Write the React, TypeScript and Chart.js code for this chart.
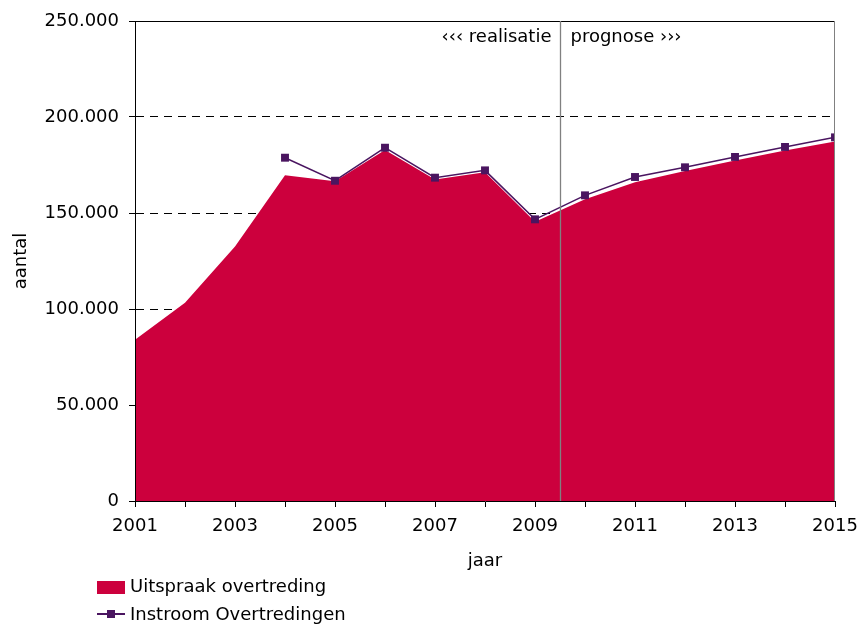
import React, { useEffect, useRef } from "react";
import { Chart, registerables } from "chart.js";

Chart.register(...registerables);

const years = [2001, 2002, 2003, 2004, 2005, 2006, 2007, 2008, 2009, 2010, 2011, 2012, 2013, 2014, 2015];
const uitspraak = [84000, 103300, 132500, 169600, 166500, 182800, 167500, 171200, 145500, 157100, 166000, 171900, 177300, 182500, 187300];
const instroom: (number | null)[] = [null, null, null, 178800, 166800, 184000, 168400, 172200, 146700, 159200, 168750, 173800, 179200, 184400, 189400];
const yTicks = [0, 50000, 100000, 150000, 200000, 250000];
const splitYear = 2009.5;
const leftNote = "‹‹‹ realisatie";
const rightNote = "prognose ›››";
const seriesNames = ["Uitspraak overtreding", "Instroom Overtredingen"];

const AREA = "#CC003D";
const LINE = "#4A1560";
const FONT = "'DejaVu Sans', Verdana, sans-serif";
const FS = 18;

function fmt(v: number): string {
  const s = Math.round(v).toString();
  return s.replace(/\B(?=(\d{3})+(?!\d))/g, ".");
}

const framePlugin = {
  id: "frame",
  afterDatasetsDraw(chart: any) {
    const { ctx, chartArea } = chart;
    const xs = chart.scales.x;
    ctx.save();
    ctx.strokeStyle = "#000";
    ctx.lineWidth = 1;
    ctx.beginPath();
    ctx.moveTo(chartArea.left, chartArea.top + 0.5);
    ctx.lineTo(chartArea.right, chartArea.top + 0.5);
    ctx.stroke();
    ctx.strokeStyle = "#808080";
    ctx.beginPath();
    ctx.moveTo(chartArea.right - 0.5, chartArea.top);
    ctx.lineTo(chartArea.right - 0.5, chartArea.bottom);
    ctx.stroke();
    const sx = Math.round(xs.getPixelForValue(splitYear)) + 0.5;
    ctx.strokeStyle = "#808080";
    ctx.lineWidth = 1.3;
    ctx.beginPath();
    ctx.moveTo(sx, chartArea.top);
    ctx.lineTo(sx, chartArea.bottom);
    ctx.stroke();
    ctx.fillStyle = "#000";
    ctx.font = `${FS}px ${FONT}`;
    ctx.textBaseline = "middle";
    ctx.textAlign = "right";
    ctx.fillText(leftNote, sx - 9, chartArea.top + 16);
    ctx.textAlign = "left";
    ctx.fillText(rightNote, sx + 10, chartArea.top + 16);
    ctx.restore();
  },
};

export default function App() {
  const ref = useRef<HTMLCanvasElement>(null);
  useEffect(() => {
    document.body.style.margin = "0";
    const canvas = ref.current!;
    const chart = new Chart(canvas, {
      type: "line",
      data: {
        datasets: [
          {
            label: seriesNames[0],
            data: years.map((y, i) => ({ x: y, y: uitspraak[i] })),
            backgroundColor: AREA,
            borderColor: AREA,
            borderWidth: 0,
            pointRadius: 0,
            fill: "origin",
            tension: 0,
            order: 1,
          },
          {
            label: seriesNames[1],
            data: years.map((y, i) => ({ x: y, y: instroom[i] })) as any,
            borderColor: LINE,
            backgroundColor: LINE,
            borderWidth: 1.5,
            pointStyle: "rect",
            pointRadius: 5.6,
            pointBorderWidth: 0,
            pointBackgroundColor: LINE,
            fill: false,
            tension: 0,
            spanGaps: false,
            order: 0,
          },
        ],
      },
      options: {
        responsive: false,
        animation: false,
        layout: { padding: { left: 0, top: 21, right: 28, bottom: 51 } },
        plugins: { legend: { display: false }, tooltip: { enabled: false } },
        scales: {
          x: {
            type: "linear",
            min: years[0],
            max: years[years.length - 1],
            afterFit: (s: any) => { s.height = 74; s.paddingLeft = 0; s.paddingRight = 0; },
            afterBuildTicks: (s: any) => { s.ticks = years.map((v) => ({ value: v })); },
            ticks: {
              autoSkip: false,
              maxRotation: 0,
              padding: 9,
              color: "#000",
              font: { family: FONT, size: FS },
              callback: (v: any) => ((Number(v) - years[0]) % 2 === 0 ? String(v) : ""),
            },
            grid: { drawOnChartArea: false, drawTicks: true, tickLength: 6, tickColor: "#000", color: "#000" },
            border: { display: true, color: "#000", width: 1, z: 1 },
            title: { display: true, text: "jaar", color: "#000", font: { family: FONT, size: FS }, padding: { top: 4, bottom: 3 } },
          },
          y: {
            min: 0,
            max: 250000,
            afterFit: (s: any) => { s.width = 135; s.paddingTop = 0; s.paddingBottom = 0; },
            afterBuildTicks: (s: any) => { s.ticks = yTicks.map((v) => ({ value: v })); },
            ticks: {
              padding: 10,
              color: "#000",
              font: { family: FONT, size: FS },
              callback: (v: any) => fmt(Number(v)),
            },
            grid: {
              drawOnChartArea: true,
              drawTicks: true,
              tickLength: 6,
              tickColor: "#000",
              color: (c: any) => (c.tick && (c.tick.value === 0 || c.tick.value === 250000) ? "rgba(0,0,0,0)" : "#000"),
              lineWidth: 1,
            },
            border: { display: true, color: "#000", width: 1, z: 1, dash: [8, 6] },
            title: { display: true, text: "aantal", color: "#000", font: { family: FONT, size: FS }, padding: { top: 11, bottom: 4 } },
          },
        },
      },
      plugins: [framePlugin],
    });
    return () => chart.destroy();
  }, []);

  const textStyle: React.CSSProperties = {
    position: "absolute",
    left: 130,
    fontFamily: FONT,
    fontSize: FS,
    lineHeight: "20px",
    color: "#000",
    whiteSpace: "nowrap",
  };

  return (
    <div style={{ position: "relative", width: 863, height: 626 }}>
      <canvas ref={ref} width={863} height={626} style={{ position: "absolute", left: 0, top: 0 }} />
      <div style={{ position: "absolute", left: 97, top: 581, width: 28, height: 13, background: AREA }} />
      <div style={{ ...textStyle, top: 576 }}>{seriesNames[0]}</div>
      <div style={{ position: "absolute", left: 97, top: 613, width: 28, height: 1.5, background: LINE }} />
      <div style={{ position: "absolute", left: 107, top: 610, width: 8, height: 8, background: LINE }} />
      <div style={{ ...textStyle, top: 604 }}>{seriesNames[1]}</div>
    </div>
  );
}
